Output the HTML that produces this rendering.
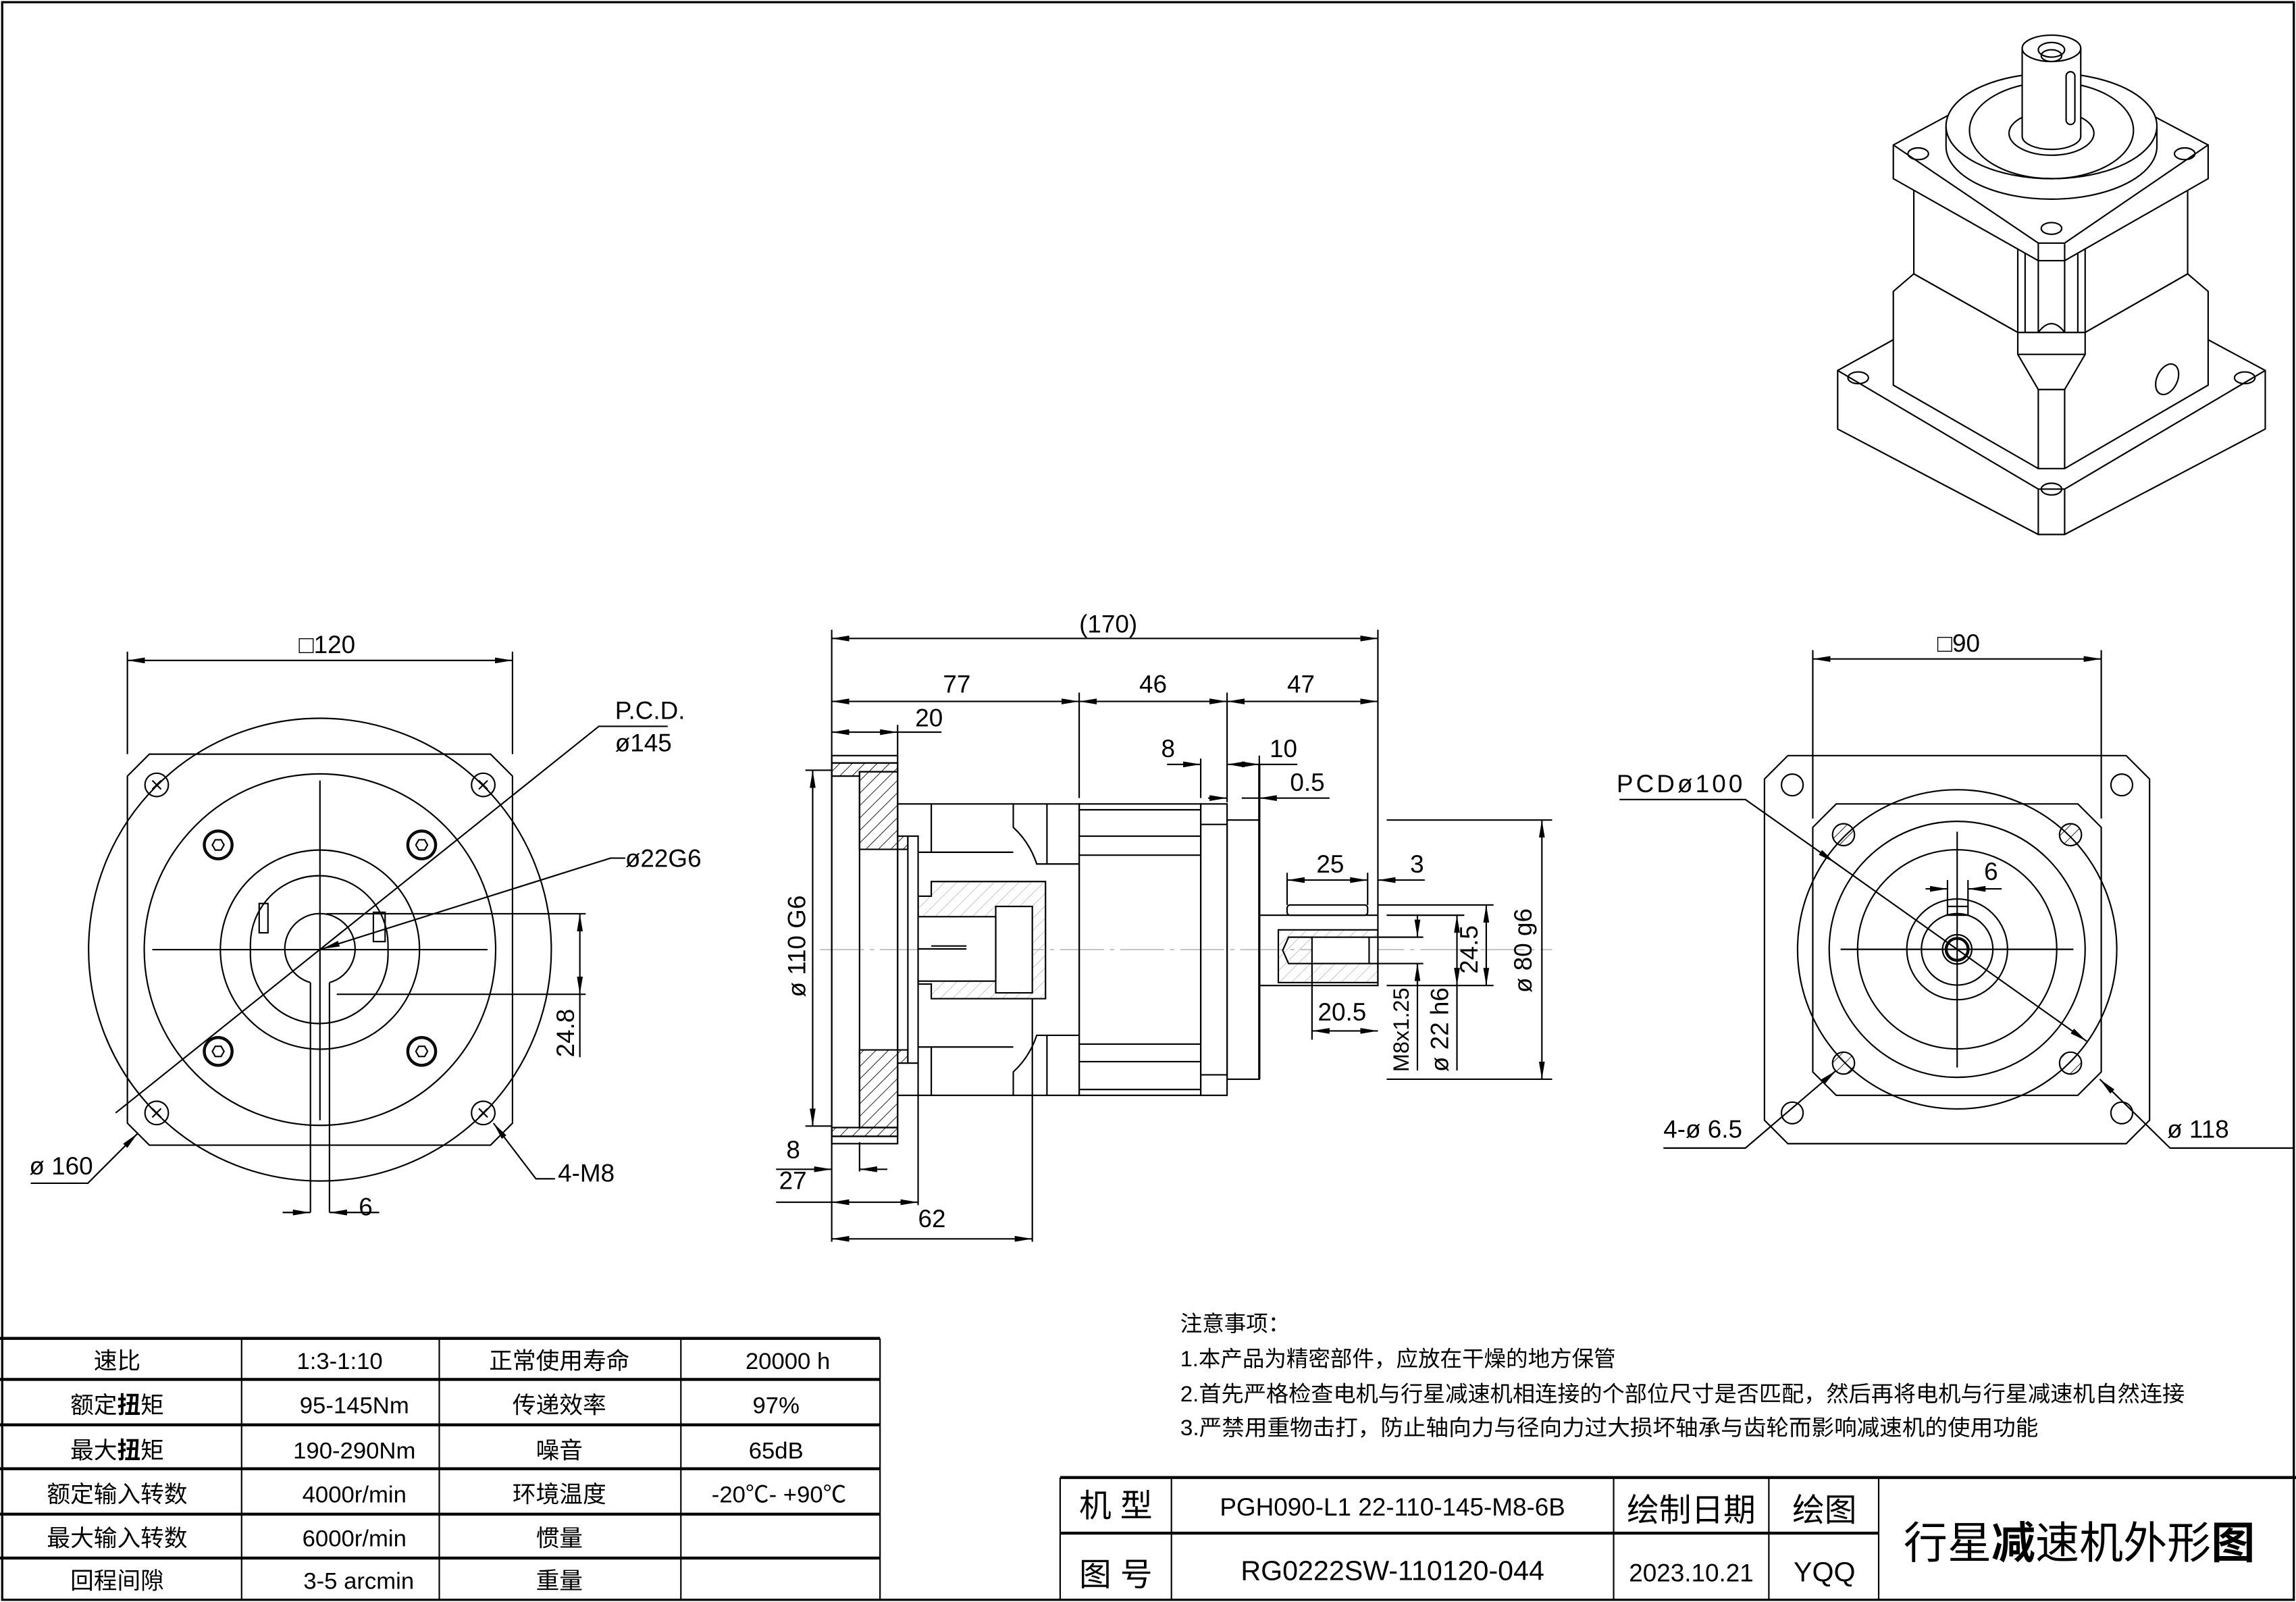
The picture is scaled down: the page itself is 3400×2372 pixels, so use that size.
<!DOCTYPE html>
<html><head><meta charset="utf-8">
<style>
html,body{margin:0;padding:0;background:#fff;}
svg{display:block;}
text{font-family:"Liberation Sans Narrow","Liberation Sans","Noto Sans CJK SC",sans-serif;fill:#000;}
.c{font-family:"Liberation Sans","Noto Sans CJK SC",sans-serif;}
</style></head>
<body>
<svg width="3400" height="2372" viewBox="0 0 1568 1094" preserveAspectRatio="none" xmlns="http://www.w3.org/2000/svg">
<defs>
<marker id="a" viewBox="0 0 12 4" refX="12" refY="2" markerWidth="12" markerHeight="4" markerUnits="userSpaceOnUse" orient="auto-start-reverse"><path d="M0,0 L12,2 L0,4z" fill="#000"/></marker>
<pattern id="h" patternUnits="userSpaceOnUse" width="6" height="6" patternTransform="rotate(45)"><line x1="0" y1="0" x2="0" y2="6" stroke="#000" stroke-width="0.8"/></pattern>
<pattern id="h2" patternUnits="userSpaceOnUse" width="6" height="6" patternTransform="rotate(45)"><line x1="0" y1="0" x2="0" y2="6" stroke="#999" stroke-width="0.5"/></pattern>
</defs>
<rect x="0" y="0" width="1568" height="1094" fill="#fff"/>
<rect x="1.5" y="1.5" width="1565" height="1091" fill="none" stroke="#000" stroke-width="1.5"/>

<g fill="none" stroke="#000" stroke-width="1">
<!-- ===== LEFT VIEW ===== -->
<polygon points="102,515 335,515 350,530 350,767 335,782 102,782 87,767 87,530"/>
<circle cx="218.5" cy="648.5" r="158"/>
<circle cx="218.5" cy="648.5" r="120"/>
<circle cx="218.5" cy="648.5" r="68"/>
<path d="M171,645 A47,47 0 0 1 265,645 M265,652 A47,47 0 0 1 171,652"/>
<line x1="171" y1="645" x2="171" y2="652"/><line x1="265" y1="645" x2="265" y2="652"/>
<rect x="177" y="617" width="6" height="20"/><rect x="255" y="623" width="8" height="20"/>
<path d="M212,671 A24,24 0 1 1 225,671"/>
<line x1="212" y1="671" x2="212" y2="828"/><line x1="225" y1="671" x2="225" y2="828"/>
<g stroke-width="1">
<circle cx="107" cy="536" r="8"/><circle cx="330" cy="536" r="8"/><circle cx="107" cy="760" r="8"/><circle cx="330" cy="760" r="8"/>
<path d="M104,533l6,6M110,533l-6,6M327,533l6,6M333,533l-6,6M104,757l6,6M110,757l-6,6M327,757l6,6M333,757l-6,6"/>
<circle cx="149" cy="577" r="10"/><circle cx="149" cy="577" r="9"/><polygon points="145,577 147,573.5 151,573.5 153,577 151,580.5 147,580.5"/>
<circle cx="288" cy="577" r="10"/><circle cx="288" cy="577" r="9"/><polygon points="284,577 286,573.5 290,573.5 292,577 290,580.5 286,580.5"/>
<circle cx="149" cy="718" r="10"/><circle cx="149" cy="718" r="9"/><polygon points="145,718 147,714.5 151,714.5 153,718 151,721.5 147,721.5"/>
<circle cx="288" cy="718" r="10"/><circle cx="288" cy="718" r="9"/><polygon points="284,718 286,714.5 290,714.5 292,718 290,721.5 286,721.5"/>
</g>
<line x1="104" y1="648.5" x2="333" y2="648.5"/><line x1="218.5" y1="533" x2="218.5" y2="765"/>
<line x1="87" y1="445" x2="87" y2="515"/><line x1="350" y1="445" x2="350" y2="515"/>
<line x1="87" y1="451" x2="350" y2="451" marker-start="url(#a)" marker-end="url(#a)"/>
<polyline points="79,760 409,496 456,496"/>
<polyline points="220,648 417,586 427,586" marker-start="url(#a)"/>
<line x1="223" y1="624" x2="400" y2="624"/><line x1="230" y1="679" x2="400" y2="679"/>
<line x1="396" y1="624" x2="396" y2="679" marker-start="url(#a)" marker-end="url(#a)"/>
<line x1="396" y1="679" x2="396" y2="722"/>
<polyline points="21,808 60,808 94,774" marker-end="url(#a)"/>
<polyline points="379,805 366,805 337,767" marker-end="url(#a)"/>
<line x1="193" y1="828" x2="212" y2="828" marker-end="url(#a)"/>
<line x1="259" y1="828" x2="225" y2="828" marker-end="url(#a)"/>

<!-- ===== MIDDLE VIEW ===== -->
<line x1="560" y1="648.5" x2="1060" y2="648.5" stroke="#aaa" stroke-width="0.6" stroke-dasharray="30,4,3,4"/>
<rect x="568" y="516" width="45" height="265"/>
<line x1="568" y1="521" x2="613" y2="521"/><line x1="568" y1="776" x2="613" y2="776"/>
<polygon points="587,527 613,527 613,571 620,571 620,580 587,580" fill="url(#h)"/>
<polygon points="568,521 613,521 613,527 587,527 587,530 568,530" fill="url(#h)"/>
<polygon points="587,717 620,717 620,726 613,726 613,770 587,770" fill="url(#h)"/>
<polygon points="568,770 613,770 613,776 568,776" fill="url(#h)"/>
<line x1="587" y1="527" x2="587" y2="770"/>
<rect x="620" y="571" width="7" height="155"/>
<rect x="613" y="549" width="124" height="199"/>
<line x1="636" y1="549" x2="636" y2="582"/><line x1="636" y1="715" x2="636" y2="748"/>
<line x1="627" y1="582" x2="692" y2="582"/><line x1="627" y1="715" x2="692" y2="715"/>
<path d="M692,549 L692,565 Q703,575 708,590 L737,590"/>
<path d="M692,748 L692,732 Q703,722 708,707 L737,707"/>
<line x1="715" y1="549" x2="715" y2="590"/><line x1="715" y1="707" x2="715" y2="748"/>
<polygon points="636,602 714,602 714,682 636,682 636,672 627,672 627,612 636,612" fill="url(#h2)"/>
<rect x="680" y="619" width="25" height="59" fill="#fff"/>
<rect x="627" y="626" width="53" height="44" fill="#fff"/>
<line x1="627" y1="648" x2="660" y2="648"/><line x1="636" y1="646" x2="660" y2="646"/>
<line x1="705" y1="682" x2="705" y2="848"/>
<rect x="737" y="549" width="83" height="199"/>
<line x1="737" y1="553" x2="820" y2="553"/><line x1="737" y1="571" x2="820" y2="571"/><line x1="737" y1="584" x2="820" y2="584"/>
<line x1="737" y1="713" x2="820" y2="713"/><line x1="737" y1="725" x2="820" y2="725"/><line x1="737" y1="744" x2="820" y2="744"/>
<rect x="820" y="549" width="18" height="199"/>
<line x1="820" y1="563" x2="838" y2="563"/><line x1="820" y1="734" x2="838" y2="734"/>
<rect x="838" y="560" width="22" height="177"/>
<line x1="860" y1="522" x2="860" y2="737" stroke-width="1.5"/>
<rect x="860" y="625" width="81" height="48"/>
<rect x="879" y="618" width="55" height="7" rx="2"/>
<rect x="873" y="635" width="68" height="36" fill="url(#h2)"/>
<rect x="896" y="640" width="45" height="18" fill="#fff"/>
<polyline points="896,640 880,640 876,649 880,658 896,658"/>
<line x1="935" y1="640" x2="935" y2="658"/>
<line x1="568" y1="430" x2="568" y2="848"/>
<line x1="941" y1="430" x2="941" y2="625"/>
<line x1="568" y1="436" x2="941" y2="436" marker-start="url(#a)" marker-end="url(#a)"/>
<line x1="737" y1="473" x2="737" y2="545"/><line x1="838" y1="473" x2="838" y2="548"/>
<line x1="568" y1="479" x2="737" y2="479" marker-start="url(#a)" marker-end="url(#a)"/>
<line x1="737" y1="479" x2="838" y2="479" marker-start="url(#a)" marker-end="url(#a)"/>
<line x1="838" y1="479" x2="941" y2="479" marker-start="url(#a)" marker-end="url(#a)"/>
<line x1="613" y1="495" x2="613" y2="516"/>
<line x1="568" y1="500" x2="613" y2="500" marker-start="url(#a)" marker-end="url(#a)"/>
<line x1="613" y1="500" x2="643" y2="500"/>
<line x1="820" y1="518" x2="820" y2="545"/><line x1="860" y1="516" x2="860" y2="522"/>
<line x1="797" y1="522" x2="820" y2="522" marker-end="url(#a)"/>
<line x1="838" y1="522" x2="860" y2="522" marker-start="url(#a)" marker-end="url(#a)"/>
<line x1="860" y1="522" x2="886" y2="522"/>
<line x1="848" y1="545" x2="860" y2="545"/>
<line x1="825" y1="545" x2="838" y2="545" marker-end="url(#a)"/>
<line x1="908" y1="545" x2="860" y2="545" marker-end="url(#a)"/>
<line x1="947" y1="560" x2="1060" y2="560"/><line x1="947" y1="737" x2="1060" y2="737"/>
<line x1="1053" y1="560" x2="1053" y2="737" marker-start="url(#a)" marker-end="url(#a)"/>
<line x1="879" y1="596" x2="879" y2="618"/><line x1="934" y1="596" x2="934" y2="618"/>
<line x1="879" y1="601" x2="934" y2="601" marker-start="url(#a)" marker-end="url(#a)"/>
<line x1="973" y1="601" x2="941" y2="601" marker-end="url(#a)"/>
<line x1="941" y1="618" x2="1020" y2="618"/><line x1="947" y1="673" x2="1020" y2="673"/>
<line x1="1015" y1="618" x2="1015" y2="673" marker-start="url(#a)" marker-end="url(#a)"/>
<line x1="995" y1="625" x2="995" y2="673" marker-start="url(#a)" marker-end="url(#a)"/>
<line x1="995" y1="673" x2="995" y2="731"/>
<line x1="947" y1="625" x2="1000" y2="625"/>
<line x1="941" y1="640" x2="972" y2="640"/><line x1="941" y1="658" x2="972" y2="658"/>
<line x1="968" y1="625" x2="968" y2="640" marker-end="url(#a)"/>
<line x1="968" y1="673" x2="968" y2="658" marker-end="url(#a)"/>
<line x1="968" y1="658" x2="968" y2="731"/>
<line x1="896" y1="658" x2="896" y2="710"/>
<line x1="896" y1="704" x2="941" y2="704" marker-start="url(#a)" marker-end="url(#a)"/>
<line x1="550" y1="526" x2="568" y2="526"/><line x1="550" y1="769" x2="568" y2="769"/>
<line x1="555" y1="526" x2="555" y2="769" marker-start="url(#a)" marker-end="url(#a)"/>
<line x1="587" y1="780" x2="587" y2="800"/>
<line x1="530" y1="798.5" x2="568" y2="798.5" marker-end="url(#a)"/>
<line x1="606" y1="798.5" x2="587" y2="798.5" marker-end="url(#a)"/>
<line x1="627" y1="726" x2="627" y2="823"/>
<line x1="530" y1="821" x2="568" y2="821"/>
<line x1="568" y1="821" x2="627" y2="821" marker-start="url(#a)" marker-end="url(#a)"/>
<line x1="568" y1="846" x2="705" y2="846" marker-start="url(#a)" marker-end="url(#a)"/>

<!-- ===== RIGHT VIEW ===== -->
<polygon points="1221,516 1452,516 1468,532 1468,765 1452,781 1221,781 1205,765 1205,532"/>
<polygon points="1254,549 1419,549 1435,565 1435,732 1419,748 1254,748 1238,732 1238,565"/>
<circle cx="1336.6" cy="648.3" r="109"/>
<circle cx="1336.6" cy="648.3" r="87.4"/>
<circle cx="1336.6" cy="648.3" r="68"/>
<circle cx="1336.6" cy="648.3" r="34.4"/>
<circle cx="1336.6" cy="648.3" r="24.4"/>
<circle cx="1336.6" cy="648.3" r="10"/>
<circle cx="1336.6" cy="648.3" r="8"/>
<circle cx="1336.6" cy="648.3" r="7"/>
<rect x="1330" y="619" width="14" height="6"/>
<circle cx="1224" cy="536" r="7.4"/><circle cx="1449" cy="536" r="7.4"/><circle cx="1224" cy="760" r="7.4"/><circle cx="1449" cy="760" r="7.4"/>
<g fill="url(#h)"><circle cx="1259" cy="570" r="7.5"/><circle cx="1414" cy="570" r="7.5"/><circle cx="1259" cy="726" r="7.5"/><circle cx="1414" cy="726" r="7.5"/></g>
<line x1="1257" y1="648.3" x2="1416" y2="648.3"/><line x1="1336.6" y1="568" x2="1336.6" y2="729"/>
<line x1="1238" y1="444" x2="1238" y2="559"/><line x1="1435" y1="444" x2="1435" y2="559"/>
<line x1="1238" y1="450" x2="1435" y2="450" marker-start="url(#a)" marker-end="url(#a)"/>
<line x1="1330" y1="601" x2="1330" y2="619"/><line x1="1344" y1="601" x2="1344" y2="619"/>
<line x1="1315" y1="607" x2="1330" y2="607" marker-end="url(#a)"/>
<line x1="1367" y1="607" x2="1344" y2="607" marker-end="url(#a)"/>
<polyline points="1106,546 1192,546 1253,589" marker-end="url(#a)"/>
<line x1="1253" y1="589" x2="1425" y2="711" marker-end="url(#a)"/>
<polyline points="1136,784 1192,784 1254,731" marker-end="url(#a)"/>
<polyline points="1566,784 1482,784 1434,737" marker-end="url(#a)"/>

<!-- ===== ISOMETRIC ===== -->
<g stroke-width="1">
<polygon points="1255,253 1293,232 1508,232 1547,253 1547,293 1410,365 1392,365 1255,293" fill="#fff"/>
<polyline points="1255,253 1392,334 1410,334 1547,253"/>
<line x1="1392" y1="334" x2="1392" y2="365"/><line x1="1410" y1="334" x2="1410" y2="365"/>
<ellipse cx="1269" cy="258" rx="7" ry="4"/><ellipse cx="1533" cy="258" rx="7" ry="4"/><ellipse cx="1401" cy="334" rx="7" ry="4"/>
<polygon points="1293,199 1307,187 1378,227 1424,227 1494,187 1508,199 1508,263 1410,320 1392,320 1293,263" fill="#fff"/>
<line x1="1392" y1="266" x2="1392" y2="320"/><line x1="1410" y1="266" x2="1410" y2="320"/>
<polyline points="1378,227 1378,242 1392,266 1410,266 1424,242 1424,227"/>
<line x1="1378" y1="242" x2="1424" y2="242"/>
<ellipse cx="1480" cy="259" rx="7" ry="11" transform="rotate(25 1480 259)"/>
<polygon points="1307,129 1307,187 1378,227 1424,227 1494,187 1494,129" fill="#fff"/>
<polyline points="1378,227 1378,169 1392,178 1392,227"/>
<polyline points="1424,227 1424,169 1410,178 1410,227"/>
<line x1="1383" y1="172" x2="1383" y2="227"/><line x1="1419" y1="172" x2="1419" y2="227"/>
<path d="M1392,227 Q1401,215 1410,227"/>
<polygon points="1293,99 1330,79 1472,80 1508,99 1508,122 1410,178 1392,178 1293,122" fill="#fff"/>
<polyline points="1293,99 1392,166 1410,166 1508,99"/>
<line x1="1392" y1="166" x2="1392" y2="178"/><line x1="1410" y1="166" x2="1410" y2="178"/>
<ellipse cx="1310" cy="105" rx="7" ry="4"/><ellipse cx="1492" cy="105" rx="7" ry="4"/><ellipse cx="1401" cy="156" rx="7" ry="4"/>
<path d="M1329,86 L1329,100 A72,36 0 0 0 1473,100 L1473,86" fill="#fff"/>
<ellipse cx="1401" cy="86" rx="72" ry="36" fill="#fff"/>
<ellipse cx="1401" cy="89" rx="56" ry="33"/>
<ellipse cx="1401" cy="91" rx="29" ry="15"/>
<path d="M1381,33 L1381,93 A20,9 0 0 0 1421,93 L1421,33" fill="#fff"/>
<ellipse cx="1401" cy="33" rx="20" ry="9" fill="#fff"/>
<ellipse cx="1401" cy="34" rx="9" ry="5"/><ellipse cx="1401" cy="38" rx="7" ry="4"/>
<rect x="1411" y="49" width="6" height="36" rx="3"/>
</g>
</g>

<!-- ===== TEXT: drawing labels ===== -->
<g font-size="17">
<text x="204" y="446">□120</text>
<text x="420" y="491">P.C.D.</text>
<text x="420" y="513">ø145</text>
<text x="427" y="592">ø22G6</text>
<text x="392" y="722" transform="rotate(-90 392 722)">24.8</text>
<text x="20" y="802">ø 160</text>
<text x="381" y="807">4-M8</text>
<text x="245" y="830">6</text>
<text x="737" y="432">(170)</text>
<text x="644" y="473">77</text>
<text x="778" y="473">46</text>
<text x="879" y="473">47</text>
<text x="625" y="496">20</text>
<text x="793" y="517">8</text>
<text x="867" y="517">10</text>
<text x="881" y="540">0.5</text>
<text x="899" y="596">25</text>
<text x="963" y="596">3</text>
<text x="900" y="697">20.5</text>
<text x="1009" y="665" transform="rotate(-90 1009 665)">24.5</text>
<text x="989" y="732" transform="rotate(-90 989 732)">ø 22 h6</text>
<text x="962" y="732" font-size="15" transform="rotate(-90 962 732)">M8x1.25</text>
<text x="1046" y="678" transform="rotate(-90 1046 678)">ø 80 g6</text>
<text x="550" y="681" transform="rotate(-90 550 681)">ø 110  G6</text>
<text x="537" y="791">8</text>
<text x="532" y="812">27</text>
<text x="627" y="838">62</text>
<text x="1323" y="445">□90</text>
<text x="1355" y="601">6</text>
<text x="1104" y="541" textLength="86" lengthAdjust="spacing">PCDø100</text>
<text x="1136" y="777">4-ø 6.5</text>
<text x="1480" y="777">ø 118</text>
</g>

<!-- ===== NOTES ===== -->
<g class="c" font-size="15">
<text x="806" y="909">注意事项：</text>
<text x="806" y="933">1.本产品为精密部件，应放在干燥的地方保管</text>
<text x="806" y="957" textLength="686" lengthAdjust="spacingAndGlyphs">2.首先严格检查电机与行星减速机相连接的个部位尺寸是否匹配，然后再将电机与行星减速机自然连接</text>
<text x="806" y="980" textLength="586" lengthAdjust="spacingAndGlyphs">3.严禁用重物击打，防止轴向力与径向力过大损坏轴承与齿轮而影响减速机的使用功能</text>
</g>

<!-- ===== SPEC TABLE ===== -->
<g fill="none" stroke="#000">
<line x1="0" y1="914" x2="601" y2="914" stroke-width="2"/>
<line x1="0" y1="942" x2="601" y2="942" stroke-width="2"/>
<line x1="0" y1="973" x2="601" y2="973" stroke-width="2"/>
<line x1="0" y1="1003" x2="601" y2="1003" stroke-width="2"/>
<line x1="0" y1="1034" x2="601" y2="1034" stroke-width="2"/>
<line x1="0" y1="1064" x2="601" y2="1064" stroke-width="2"/>
<line x1="165" y1="914" x2="165" y2="1092"/><line x1="300" y1="914" x2="300" y2="1092"/>
<line x1="465" y1="914" x2="465" y2="1092"/><line x1="601" y1="914" x2="601" y2="1092"/>
</g>
<g class="c" font-size="16" text-anchor="middle">
<text x="80" y="935">速比</text><text x="232" y="935">1:3-1:10</text><text x="382" y="935">正常使用寿命</text><text x="538" y="935">20000 h</text>
<text x="80" y="965">额定<tspan font-weight="bold">扭</tspan>矩</text><text x="242" y="965">95-145Nm</text><text x="382" y="965">传递效率</text><text x="530" y="965">97%</text>
<text x="80" y="996">最大<tspan font-weight="bold">扭</tspan>矩</text><text x="242" y="996">190-290Nm</text><text x="382" y="996">噪音</text><text x="530" y="996">65dB</text>
<text x="80" y="1026">额定输入转数</text><text x="242" y="1026">4000r/min</text><text x="382" y="1026">环境温度</text><text x="532" y="1026">-20℃- +90℃</text>
<text x="80" y="1056">最大输入转数</text><text x="242" y="1056">6000r/min</text><text x="382" y="1056">惯量</text>
<text x="80" y="1085">回程间隙</text><text x="245" y="1085">3-5 arcmin</text><text x="382" y="1085">重量</text>
</g>

<!-- ===== TITLE BLOCK ===== -->
<g fill="none" stroke="#000">
<line x1="724" y1="1009" x2="1568" y2="1009" stroke-width="2"/>
<line x1="724" y1="1047" x2="1283" y2="1047" stroke-width="2"/>
<line x1="724" y1="1009" x2="724" y2="1092"/>
<line x1="800" y1="1009" x2="800" y2="1092"/>
<line x1="1102" y1="1009" x2="1102" y2="1092"/>
<line x1="1208" y1="1009" x2="1208" y2="1092"/>
<line x1="1283" y1="1009" x2="1283" y2="1092"/>
</g>
<g class="c" text-anchor="middle">
<text x="762" y="1036" font-size="22">机 型</text>
<text x="951" y="1035" font-size="17">PGH090-L1 22-110-145-M8-6B</text>
<text x="1155" y="1039" font-size="22">绘制日期</text>
<text x="1246" y="1039" font-size="22">绘图</text>
<text x="762" y="1083" font-size="22">图 号</text>
<text x="951" y="1079" font-size="19">RG0222SW-110120-044</text>
<text x="1155" y="1080" font-size="17">2023.10.21</text>
<text x="1246" y="1080" font-size="19">YQQ</text>
<text x="1420" y="1064" font-size="30">行星<tspan font-weight="bold">减</tspan>速机外形<tspan font-weight="bold">图</tspan></text>
</g>
</svg>
</body></html>
